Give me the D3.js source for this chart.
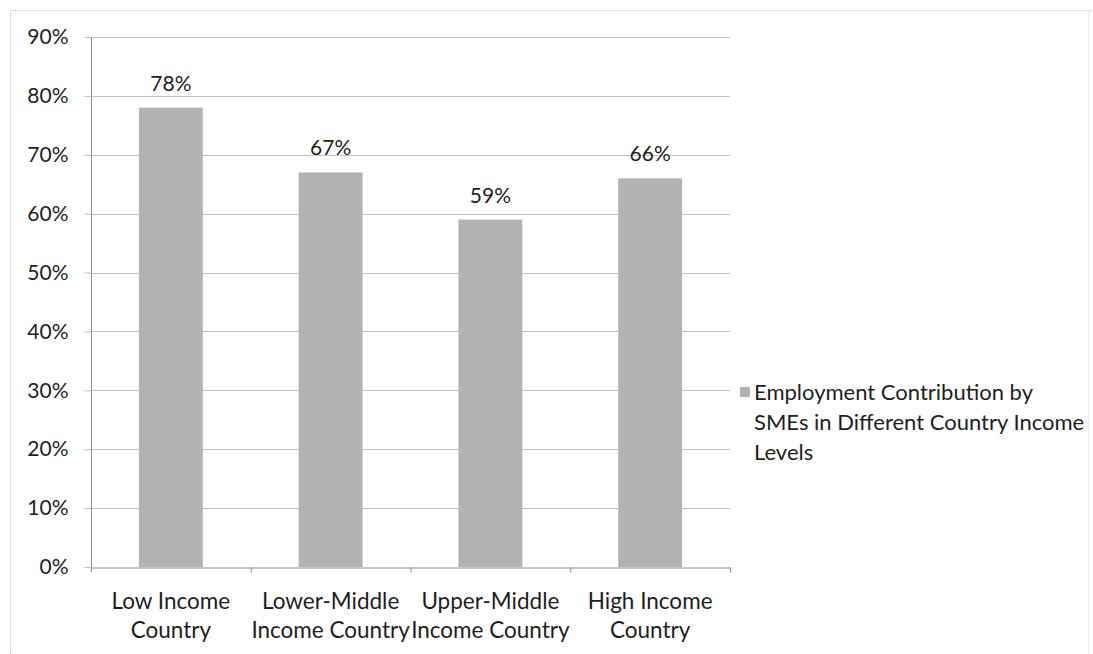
<!DOCTYPE html>
<html><head><meta charset="utf-8">
<script src="https://cdn.jsdelivr.net/npm/d3@7"></script>
<style>body{margin:0;background:#fff}svg{display:block}</style>
</head><body>
<script>
const categories = [["Low Income","Country"],["Lower-Middle","Income Country"],["Upper-Middle","Income Country"],["High Income","Country"]];
const values = [0.78, 0.67, 0.59, 0.66];
const valueLabels = ["78%","67%","59%","66%"];
const yTicks = [0,0.1,0.2,0.3,0.4,0.5,0.6,0.7,0.8,0.9];
const legendLines = ["Employment Contribution by","SMEs in Different Country Income","Levels"];

(function(){
const W=1093,H=654;
const font="Lato, 'Open Sans', sans-serif";
const txt="#1e1e1e";
const svg=d3.select("body").append("svg").attr("width",W).attr("height",H);
svg.append("path").attr("d","M10.5,660V10.5H1092").attr("fill","none").attr("stroke","#c4c4c4").attr("stroke-dasharray","1,1");
svg.append("path").attr("d","M1088.5,10.5V660").attr("fill","none").attr("stroke","#ececec");
const pl=91,pr=730,pt=37,pb=567;
const x=d3.scaleBand().domain(d3.range(categories.length)).range([pl,pr]).paddingInner(0.6).paddingOuter(0.3);
const y=d3.scaleLinear().domain([0,0.9]).range([pb,pt]);
svg.append("g").selectAll("line").data(yTicks.slice(1)).join("line")
  .attr("x1",pl).attr("x2",pr).attr("y1",d=>Math.round(y(d))+0.5).attr("y2",d=>Math.round(y(d))+0.5)
  .attr("stroke","#c2c2c2").attr("stroke-width",1);
svg.append("g").selectAll("rect").data(values).join("rect")
  .attr("x",(d,i)=>x(i)).attr("width",x.bandwidth()).attr("y",d=>y(d)).attr("height",d=>pb-y(d))
  .attr("fill","#b3b3b3");
const yAxis=d3.axisLeft(y).tickValues(yTicks).tickFormat(d3.format(".0%")).tickSize(7).tickPadding(16);
const gy=svg.append("g").attr("transform",`translate(${pl+0.5},0)`).call(yAxis);
gy.selectAll("text").attr("font-family",font).attr("font-size",21).attr("fill",txt);
gy.selectAll("line").attr("stroke","#c2c2c2");
gy.select(".domain").attr("stroke","#8c8c8c").attr("d",`M0,${pt}V${pb}`);
const xb=d3.scaleLinear().domain([0,4]).range([pl,pr]);
const gx=svg.append("g").attr("transform",`translate(0,${pb+0.5})`)
  .call(d3.axisBottom(xb).tickValues([0,1,2,3,4]).tickFormat("").tickSize(5).tickSizeOuter(0));
gx.selectAll("line,path").attr("stroke","#8c8c8c");
const xl=svg.append("g").selectAll("text").data(categories).join("text")
  .attr("x",(d,i)=>x(i)+x.bandwidth()/2).attr("y",609)
  .attr("text-anchor","middle").attr("font-family",font).attr("font-size",22.5).attr("fill",txt);
xl.each(function(d){const t=d3.select(this);d.forEach((s,k)=>t.append("tspan").attr("x",t.attr("x")).attr("dy",k?29:0).text(s));});
svg.append("g").selectAll("text").data(values).join("text")
  .attr("x",(d,i)=>x(i)+x.bandwidth()/2).attr("y",d=>y(d)-17)
  .attr("text-anchor","middle").attr("font-family",font).attr("font-size",21).attr("fill",txt)
  .text((d,i)=>valueLabels[i]);
svg.append("rect").attr("x",740).attr("y",387).attr("width",10).attr("height",10).attr("fill","#b3b3b3");
svg.append("g").selectAll("text").data(legendLines).join("text")
  .attr("x",754).attr("y",(d,i)=>400+i*30).attr("font-family",font).attr("font-size",22).attr("fill",txt).text(d=>d);
})();
</script>
</body></html>
